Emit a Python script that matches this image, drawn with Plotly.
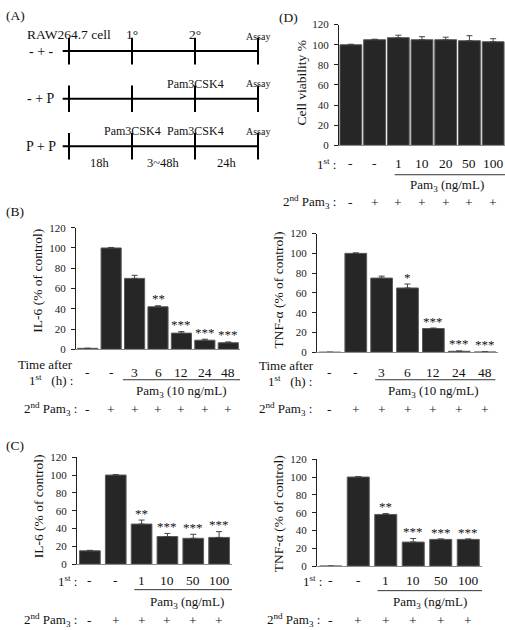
import plotly.graph_objects as go

# ---------------- data ----------------
# Panel A (timeline)
A_row_labels = ["- + -", "- + P", "P + P"]
A_stage_labels = [
    ["RAW264.7 cell", "1°", "2°", "Assay"],
    ["", "", "Pam3CSK4", "Assay"],
    ["", "Pam3CSK4", "Pam3CSK4", "Assay"],
]
A_intervals = ["18h", "3~48h", "24h"]

# Panel D (cell viability)
D_first = ["-", "-", "1", "10", "20", "50", "100"]
D_second = ["-", "+", "+", "+", "+", "+", "+"]
D_values = [100, 105, 107, 105, 105, 104, 103]
D_err = [0.5, 0.5, 2.5, 3, 2.5, 5, 3]

# Panel B (time after 1st)
B_time = ["-", "-", "3", "6", "12", "24", "48"]
B_second = ["-", "+", "+", "+", "+", "+", "+"]
B_il6 = [1, 100, 70, 42, 16, 9, 6.5]
B_il6_err = [0, 0.5, 3, 1, 1.5, 1, 0.8]
B_il6_sig = ["", "", "", "**", "***", "***", "***"]
B_tnf = [0, 100, 75, 65, 24, 1, 0.3]
B_tnf_err = [0, 0.5, 2, 4, 0.5, 0.3, 0.2]
B_tnf_sig = ["", "", "", "*", "***", "***", "***"]

# Panel C (dose of 1st)
C_first = ["-", "-", "1", "10", "50", "100"]
C_second = ["-", "+", "+", "+", "+", "+"]
C_il6 = [15, 100, 45, 31, 29, 30]
C_il6_err = [0.5, 0.5, 4.5, 3.5, 4.5, 6.5]
C_il6_sig = ["", "", "**", "***", "***", "***"]
C_tnf = [0, 100, 58, 27, 30, 30]
C_tnf_err = [0, 0.5, 1, 4, 0.5, 0.5]
C_tnf_sig = ["", "", "**", "***", "***", "***"]

Y_TICKS = [0, 20, 40, 60, 80, 100, 120]

# ---------------- helpers ----------------
W, H = 505, 630
FONT = "Liberation Serif"
INK = "#111111"


def X(px):
    return px / W


def Y(py):
    return 1 - py / H


fig = go.Figure()
layout = dict(
    width=W, height=H, margin=dict(l=0, r=0, t=0, b=0),
    paper_bgcolor="white", plot_bgcolor="white", showlegend=False,
    font=dict(family=FONT, color=INK),
)


def text(t, x, y, size=13, xref="paper", yref="paper", xanchor="center",
         yanchor="middle", angle=0, yshift=0):
    if xref == "paper":
        x = X(x)
    if yref == "paper":
        y = Y(y)
    fig.add_annotation(text=t, x=x, y=y, xref=xref, yref=yref, showarrow=False,
                       font=dict(family=FONT, size=size, color=INK),
                       xanchor=xanchor, yanchor=yanchor, textangle=angle,
                       yshift=yshift, borderpad=0)


# ---------------- panel A: timeline ----------------
layout["xaxis"] = dict(domain=[X(0), X(265)], range=[-1.095, 3.111], visible=False)
layout["yaxis"] = dict(domain=[Y(165), Y(20)], range=[2.454, -0.536], visible=False)

text("(A)", 5, 10, size=13.5, xanchor="left")
stages = list(range(len(A_stage_labels[0])))
for r, lab in enumerate(A_row_labels):
    fig.add_trace(go.Scatter(x=[-0.1, stages[-1]], y=[r, r], mode="lines",
                             line=dict(color="black", width=2),
                             xaxis="x", yaxis="y", hoverinfo="skip"))
    fig.add_trace(go.Scatter(x=stages, y=[r] * len(stages), mode="markers",
                             marker=dict(symbol="line-ns", size=19,
                                         line=dict(color="black", width=2)),
                             xaxis="x", yaxis="y", hoverinfo="skip"))
    text(lab, -0.44, r, size=14, xref="x", yref="y")
    for p, s in enumerate(A_stage_labels[r]):
        if not s:
            continue
        if s == "Assay":
            size, ys = 10, 15
        elif s == "Pam3CSK4":
            size, ys = 12, 15
        else:
            size, ys = 13.5, 17
        text(s, p, r, size=size, xref="x", yref="y", yshift=ys)

for i, s in enumerate(A_intervals):
    text(s, i + 0.5, len(A_row_labels) - 1, size=12.5, xref="x", yref="y", yshift=-17)


# ---------------- bar panels ----------------
def bar_panel(k, values, err, sig, dom_x, dom_y, bw):
    n = len(values)
    xs = list(range(n))
    xa, ya = f"x{k}", f"y{k}"
    layout[f"xaxis{k}"] = dict(domain=[X(dom_x[0]), X(dom_x[1])], range=[-0.5, n - 0.5],
                               showline=True, linecolor="#8a8a8a", linewidth=1,
                               showticklabels=False, ticks="", showgrid=False,
                               zeroline=False, anchor=ya, fixedrange=True)
    layout[f"yaxis{k}"] = dict(domain=[Y(dom_y[1]), Y(dom_y[0])], range=[0, 120],
                               showline=True, linecolor="#222", linewidth=1,
                               ticks="outside", ticklen=4, tickcolor="#222",
                               tickvals=Y_TICKS, showgrid=False, zeroline=False,
                               tickfont=dict(family=FONT, size=11, color="#222"),
                               ticklabelstandoff=3, anchor=xa, fixedrange=True)
    fig.add_trace(go.Bar(x=xs, y=values, width=bw, xaxis=xa, yaxis=ya,
                         marker=dict(color="#262626", line=dict(color="#5a5a5a", width=1)),
                         error_y=dict(type="data", array=err, symmetric=False,
                                      arrayminus=[0] * n, color="#444", thickness=1, width=3),
                         hoverinfo="skip"))
    if sig:
        for i, s in enumerate(sig):
            if s:
                text(s, i, values[i] + err[i] + 0.5, size=13, xref=xa, yref=ya,
                     yanchor="bottom", yshift=-2)
    return xa


def label_row(xa, labels, py, size=13.5):
    for i, s in enumerate(labels):
        text(s, i, py, size=size, xref=xa)


def underline(xa, x0, x1, py):
    fig.add_shape(type="line", xref=xa, yref="paper", x0=x0, x1=x1, y0=Y(py), y1=Y(py),
                  line=dict(color="#333", width=1))


FIRST = "1<sup>st</sup> :"
FIRST_H = "1<sup>st</sup>\u00a0\u00a0\u00a0(h) :"
SECOND = "2<sup>nd</sup>\u00a0Pam<sub>3</sub> :"
PAM_DOSE = "Pam<sub>3</sub> (ng/mL)"
PAM_10 = "Pam<sub>3</sub> (10 ng/mL)"

# Panel D
xa = bar_panel(2, D_values, D_err, None, (339, 505), (19, 142), 0.92)
text("(D)", 278, 12, size=13.5, xanchor="left")
text("Cell viability %", 302, 78, size=13.5, angle=-90)
text(FIRST, 337, 161, xanchor="right")
label_row(xa, D_first, 161)
underline(xa, 1.85, 6.5, 172)
text(PAM_DOSE, 4.05, 183, xref=xa)
text(SECOND, 337, 200, xanchor="right")
label_row(xa, D_second, 200)

# Panel B left (IL-6)
xa = bar_panel(3, B_il6, B_il6_err, B_il6_sig, (76, 240), (226, 350), 0.86)
text("(B)", 5, 210, size=13.5, xanchor="left")
text("IL-6 (% of control)", 38, 280, size=13.5, angle=-90)
text("Time after", 74, 365, size=13, xanchor="right")
text(FIRST_H, 74, 381, xanchor="right")
label_row(xa, B_time, 374)
underline(xa, 1.5, 6.55, 381)
text(PAM_10, 4.0, 393, xref=xa)
text(SECOND, 78, 411, xanchor="right")
label_row(xa, B_second, 411)

# Panel B right (TNF-a)
xa = bar_panel(4, B_tnf, B_tnf_err, B_tnf_sig, (317, 498), (232, 353), 0.84)
text("TNF-α (% of control)", 278, 290, size=13.5, angle=-90)
text("Time after", 315, 366, size=13, xanchor="right")
text(FIRST_H, 313, 382, xanchor="right")
label_row(xa, B_time, 374)
underline(xa, 1.75, 6.4, 381)
text(PAM_10, 4.0, 393, xref=xa)
text(SECOND, 313, 411, xanchor="right")
label_row(xa, B_second, 411)

# Panel C left (IL-6)
xa = bar_panel(5, C_il6, C_il6_err, C_il6_sig, (77, 232), (460, 569), 0.8)
text("(C)", 5, 448, size=13.5, xanchor="left")
text("IL-6 (% of control)", 38, 510, size=13.5, angle=-90)
text(FIRST, 78, 586, xanchor="right")
label_row(xa, C_first, 586)
underline(xa, 1.72, 5.9, 595)
text(PAM_DOSE, 3.75, 608, xref=xa)
text(SECOND, 78, 626, xanchor="right")
label_row(xa, C_second, 626)

# Panel C right (TNF-a)
xa = bar_panel(6, C_tnf, C_tnf_err, C_tnf_sig, (317, 482), (462, 571), 0.8)
text("TNF-α (% of control)", 278, 518, size=13.5, angle=-90)
text(FIRST, 323, 586, xanchor="right")
label_row(xa, C_first, 586)
underline(xa, 1.7, 5.55, 596)
text(PAM_DOSE, 3.6, 608, xref=xa)
text(SECOND, 321, 626, xanchor="right")
label_row(xa, C_second, 626)

fig.update_layout(**layout)
fig.write_html("out.html")
